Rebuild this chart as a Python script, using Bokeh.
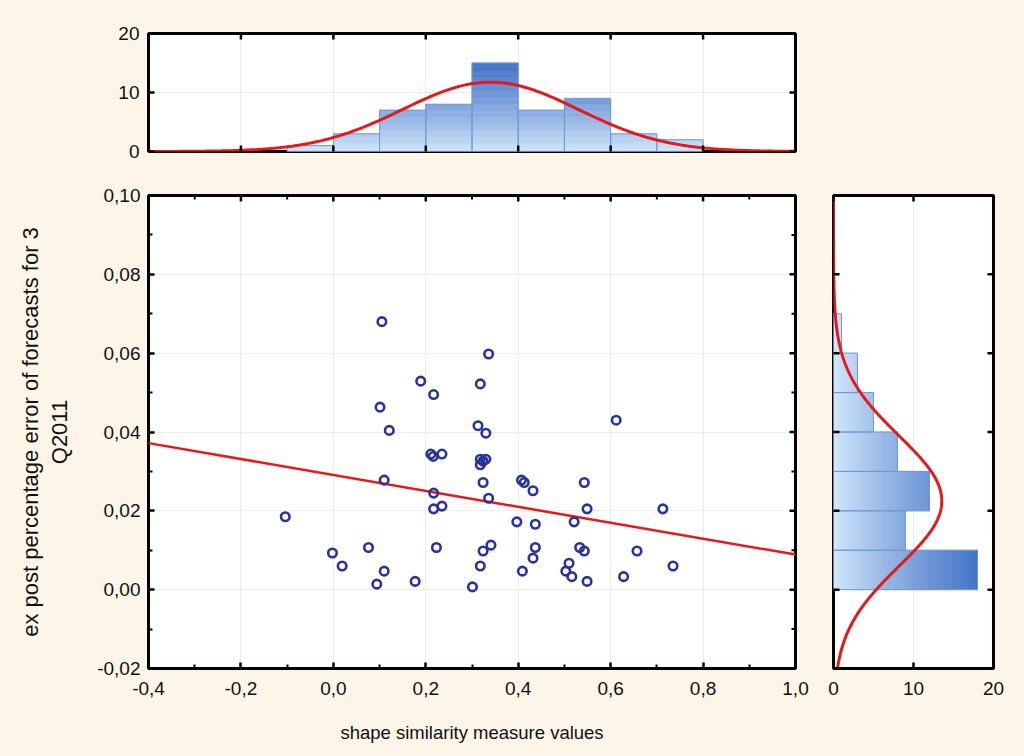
import numpy as np
from jinja2 import Template
from bokeh.plotting import figure
from bokeh.layouts import column, row
from bokeh.models import FixedTicker, LinearAxis, Range1d, Grid
from bokeh.embed import file_html
from bokeh.resources import INLINE

# ---------------- data ----------------
x_vals = [0.105, 0.336, 0.189, 0.318, 0.217, 0.101, 0.612, 0.121, 0.313, 0.330,
          0.211, 0.216, 0.235, 0.318, 0.330, 0.324, 0.318, 0.110, 0.324, 0.407,
          0.413, 0.432, 0.543, 0.217, 0.336, 0.217, 0.235, 0.549, 0.713, 0.397,
          0.437, 0.521, -0.002, 0.076, 0.223, 0.341, 0.324, 0.437, 0.533, 0.543,
          0.657, 0.019, 0.110, 0.318, 0.432, 0.510, 0.409, 0.503, 0.516, 0.735,
          0.094, 0.177, 0.301, 0.549, 0.628, -0.104]
y_vals = [0.0680, 0.0598, 0.0529, 0.0522, 0.0495, 0.0463, 0.0430, 0.0404, 0.0416, 0.0397,
          0.0344, 0.0338, 0.0344, 0.0331, 0.0331, 0.0326, 0.0317, 0.0278, 0.0272, 0.0278,
          0.0272, 0.0251, 0.0272, 0.0245, 0.0232, 0.0205, 0.0212, 0.0205, 0.0205, 0.0172,
          0.0166, 0.0172, 0.0093, 0.0107, 0.0107, 0.0113, 0.0098, 0.0107, 0.0107, 0.0098,
          0.0098, 0.0060, 0.0047, 0.0060, 0.0080, 0.0067, 0.0047, 0.0047, 0.0033, 0.0060,
          0.0014, 0.0021, 0.0007, 0.0021, 0.0033, 0.0185]

x_bin_edges = [-0.1, 0.0, 0.1, 0.2, 0.3, 0.4, 0.5, 0.6, 0.7, 0.8]
y_bin_edges = [0.0, 0.01, 0.02, 0.03, 0.04, 0.05, 0.06, 0.07]

x_ticks = [-0.4, -0.2, 0.0, 0.2, 0.4, 0.6, 0.8, 1.0]
x_tick_labels = ["-0,4", "-0,2", "0,0", "0,2", "0,4", "0,6", "0,8", "1,0"]
x_minor_ticks = [-0.3, -0.1, 0.1, 0.3, 0.5, 0.7, 0.9]
y_ticks = [-0.02, 0.0, 0.02, 0.04, 0.06, 0.08, 0.10]
y_tick_labels = ["-0,02", "0,00", "0,02", "0,04", "0,06", "0,08", "0,10"]
y_minor_ticks = [-0.01, 0.01, 0.03, 0.05, 0.07, 0.09]
count_ticks = [0, 10, 20]
count_tick_labels = ["0", "10", "20"]

reg_intercept = 0.0291
reg_slope = -0.0202
x_mean, x_sd = 0.34, 0.19
y_mean, y_sd = 0.0225, 0.0165

x_title = "shape similarity measure values"
y_title = "ex post percentage error of forecasts for 3\nQ2011"

# ---------------- styling ----------------
BG = "#fdf6e8"
FONT = "Liberation Sans"
FS = "19px"
LIGHT = np.array([212, 233, 251])
DARK = np.array([64, 112, 198])
MARK = "#2a3399"
RED = "#e3191c"
GRID = "#ececec"

def grad_color(frac):
    frac = max(0.0, min(1.0, frac)) ** 0.85
    c = LIGHT + (DARK - LIGHT) * frac
    return "#%02x%02x%02x" % tuple(int(round(v)) for v in c)

def labeled_axis(ticks, minor, labels, standoff):
    ax = LinearAxis(ticker=FixedTicker(ticks=ticks, minor_ticks=minor or []))
    ax.axis_line_color = None
    ax.major_tick_in = 6
    ax.major_tick_out = 0
    ax.minor_tick_in = 4
    ax.minor_tick_out = 0
    ax.major_tick_line_width = 2.5
    ax.minor_tick_line_width = 2
    ax.major_tick_line_color = "black"
    ax.minor_tick_line_color = "black"
    ax.major_label_text_font = FONT
    ax.major_label_text_color = "#111111"
    ax.major_label_text_font_size = FS
    ax.major_label_overrides = {t: l for t, l in zip(ticks, labels)}
    ax.major_label_standoff = standoff
    return ax

def edge_ticks(p, ticks, minor, edge):
    """Inward tick marks on an unlabeled frame edge (outer half is clipped by the frame)."""
    xr, yr = p.x_range, p.y_range
    for tk, size, lw in ((ticks, 12, 2.5), (minor or [], 8, 2)):
        if not tk:
            continue
        if edge in ("top", "bottom"):
            yv = yr.end if edge == "top" else yr.start
            p.scatter(tk, [yv] * len(tk), marker="dash", angle=np.pi / 2, size=size,
                      line_color="black", line_width=lw)
        else:
            xv = xr.end if edge == "right" else xr.start
            p.scatter([xv] * len(tk), tk, marker="dash", angle=0, size=size,
                      line_color="black", line_width=lw)

def base_fig(xr, yr, fw, fh, bl, br, bt, bb):
    p = figure(x_range=xr, y_range=yr, frame_width=fw, frame_height=fh,
               min_border_left=bl, min_border_right=br, min_border_top=bt,
               min_border_bottom=bb, output_backend="svg", toolbar_location=None,
               background_fill_color="white", border_fill_color=BG,
               x_axis_type=None, y_axis_type=None)
    p.outline_line_color = "black"
    p.outline_line_width = 3
    return p

def add_grid(p, xt, yt):
    if xt:
        p.add_layout(Grid(dimension=0, ticker=FixedTicker(ticks=xt),
                          grid_line_color=GRID, grid_line_width=1))
    if yt:
        p.add_layout(Grid(dimension=1, ticker=FixedTicker(ticks=yt),
                          grid_line_color=GRID, grid_line_width=1))

xr = Range1d(-0.4, 1.0)
yr = Range1d(-0.02, 0.10)
n_pts = len(x_vals)
step = 0.2

# ---------------- top histogram ----------------
counts_x, _ = np.histogram(x_vals, bins=x_bin_edges)
top = base_fig(xr, Range1d(0, 20), 647, 118, 148, 18, 33, 20)
top.add_layout(labeled_axis(count_ticks, None, count_tick_labels, 9), "left")
add_grid(top, x_ticks, count_ticks)

mx = float(max(counts_x))
L, R, B, T, C = [], [], [], [], []
for i, c in enumerate(counts_x):
    n = int(np.ceil(c / step))
    for j in range(n):
        b = j * step
        t = min((j + 1) * step, c)
        L.append(x_bin_edges[i]); R.append(x_bin_edges[i + 1])
        B.append(b); T.append(t); C.append(grad_color((b + t) / 2 / mx))
top.quad(left=L, right=R, bottom=B, top=T, fill_color=C, line_color=C, line_width=0.6)
top.quad(left=x_bin_edges[:-1], right=x_bin_edges[1:], bottom=0, top=counts_x,
         fill_color=None, line_color="#6e9ad6", line_width=1)
bw_x = x_bin_edges[1] - x_bin_edges[0]
xs = np.linspace(xr.start, xr.end, 300)
top.line(xs, n_pts * bw_x * np.exp(-0.5 * ((xs - x_mean) / x_sd) ** 2) / (x_sd * np.sqrt(2 * np.pi)),
         line_color=RED, line_width=3)
edge_ticks(top, x_ticks, None, "bottom")
edge_ticks(top, x_ticks, None, "top")
edge_ticks(top, count_ticks, None, "right")

# ---------------- scatter ----------------
sc = base_fig(xr, yr, 647, 473, 148, 18, 24, 87)
xb = labeled_axis(x_ticks, x_minor_ticks, x_tick_labels, 13)
yl = labeled_axis(y_ticks, y_minor_ticks, y_tick_labels, 8)
for a, t, fs, lh in ((xb, x_title, "18.5px", 1.2), (yl, y_title, "22px", 1.15)):
    a.axis_label = t
    a.axis_label_text_font = FONT
    a.axis_label_text_font_size = fs
    a.axis_label_text_font_style = "normal"
    a.axis_label_text_color = "#111111"
    a.axis_label_text_line_height = lh
xb.axis_label_standoff = 24
yl.axis_label_standoff = 22
sc.add_layout(xb, "below")
sc.add_layout(yl, "left")
add_grid(sc, x_ticks, y_ticks)

lx = np.linspace(xr.start, xr.end, 2)
sc.line(lx, reg_intercept + reg_slope * lx, line_color=RED, line_width=2.5)
sc.scatter(x_vals, y_vals, marker="circle", size=8.5, fill_color=None,
           line_color=MARK, line_width=2.6)
edge_ticks(sc, x_ticks, x_minor_ticks, "top")
edge_ticks(sc, y_ticks, y_minor_ticks, "right")

# ---------------- right histogram ----------------
counts_y, _ = np.histogram(y_vals, bins=y_bin_edges)
rh = base_fig(Range1d(0, 20), yr, 160, 473, 20, 30, 24, 87)
rh.add_layout(labeled_axis(count_ticks, None, count_tick_labels, 13), "below")
add_grid(rh, count_ticks, None)

my = float(max(counts_y))
L, R, B, T, C = [], [], [], [], []
for i, c in enumerate(counts_y):
    n = int(np.ceil(c / step))
    for j in range(n):
        b = j * step
        t = min((j + 1) * step, c)
        L.append(b); R.append(t)
        B.append(y_bin_edges[i]); T.append(y_bin_edges[i + 1]); C.append(grad_color((b + t) / 2 / my))
rh.quad(left=L, right=R, bottom=B, top=T, fill_color=C, line_color=C, line_width=0.6)
rh.quad(left=0, right=counts_y, bottom=y_bin_edges[:-1], top=y_bin_edges[1:],
        fill_color=None, line_color="#6e9ad6", line_width=1)
bw_y = y_bin_edges[1] - y_bin_edges[0]
ys = np.linspace(yr.start, yr.end, 300)
rh.line(n_pts * bw_y * np.exp(-0.5 * ((ys - y_mean) / y_sd) ** 2) / (y_sd * np.sqrt(2 * np.pi)), ys,
        line_color=RED, line_width=3)
edge_ticks(rh, y_ticks, None, "left")
edge_ticks(rh, y_ticks, None, "right")
edge_ticks(rh, count_ticks, None, "top")

layout = column(top, row(sc, rh, spacing=0), spacing=0, styles={"background-color": BG})

template = Template("""{% extends base %}
{% block preamble %}<style>html, body { background-color: #fdf6e8; }</style>{% endblock %}
""")
open("out.html", "w").write(file_html(layout, INLINE, template=template))
